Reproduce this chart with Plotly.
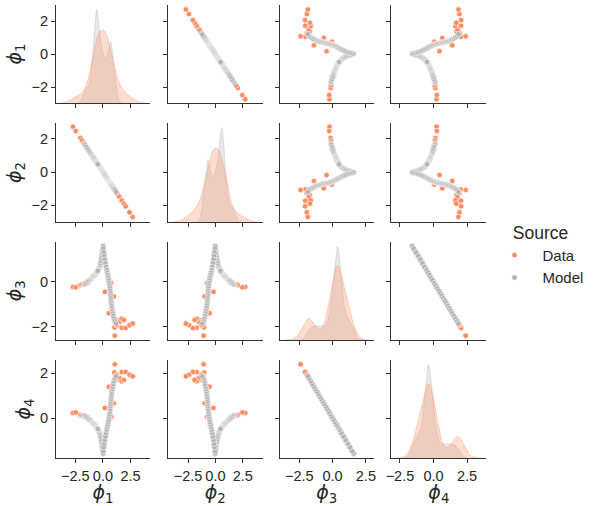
import numpy as np
import plotly.graph_objects as go

# Values (one entry per sample)
data_phi1 = [-2.72, -2.46, -2.04, -1.88, -1.66, -1.45, -1.36, -1.26,
             -1.10, -0.98, -0.86, -0.78, -0.70, -0.62, -0.55, -0.48, -0.40, -0.33, -0.27, -0.22, -0.16, -0.11,
             -0.06, 0.00, 0.05,
             -0.92, -0.74, -0.66, -0.58, -0.52,
             -1.02, -0.82, -0.64, -0.45, -0.36, -0.30, -0.19, -0.13,
             -0.95, -0.80, -0.68, -0.60,
             -0.25, -0.20, -0.14, -0.09, -0.03, 0.06, 0.12, 0.15, 0.20, 0.25, 0.30,
             0.10, 0.22, 0.34, 0.40, 0.46, 0.52, 0.57, 0.62, 0.70, 0.78, 0.88, 0.94, 1.00, 1.12,
             0.37, 0.43, 0.49, 0.39, 0.45, 0.51, 0.47,
             0.18, 0.54, 0.98, 0.75,
             1.05, 1.08, 1.27, 1.38, 1.50, 1.70, 1.72, 1.90, 2.06, 2.42, 2.70]
data_phi2 = [2.72, 2.46, 2.04, 1.88, 1.66, 1.45, 1.36, 1.26,
             1.10, 0.98, 0.86, 0.78, 0.70, 0.62, 0.55, 0.48, 0.40, 0.33, 0.27, 0.22, 0.16, 0.11,
             0.06, 0.00, -0.05,
             0.92, 0.74, 0.66, 0.58, 0.52,
             1.02, 0.82, 0.64, 0.45, 0.36, 0.30, 0.19, 0.13,
             0.95, 0.80, 0.68, 0.60,
             0.25, 0.20, 0.14, 0.09, 0.03, -0.06, -0.12, -0.15, -0.20, -0.25, -0.30,
             -0.10, -0.22, -0.34, -0.40, -0.46, -0.52, -0.57, -0.62, -0.70, -0.78, -0.88, -0.94, -1.00, -1.12,
             -0.37, -0.43, -0.49, -0.39, -0.45, -0.51, -0.47,
             -0.18, -0.54, -0.98, -0.75,
             -1.05, -1.08, -1.27, -1.38, -1.50, -1.70, -1.72, -1.90, -2.06, -2.42, -2.70]
data_phi3 = [-0.23, -0.25, -0.14, -0.11, -0.08, 0.00, -0.04, 0.07,
             0.12, 0.18, 0.24, 0.28, 0.33, 0.38, 0.44, 0.49, 0.56, 0.63, 0.72, 0.84, 0.98, 1.10,
             1.28, 1.42, 1.60,
             0.22, 0.31, 0.35, 0.41, 0.46,
             0.15, 0.26, 0.37, 0.52, 0.60, 0.67, 0.90, 1.04,
             0.20, 0.27, 0.34, 0.40,
             0.77, 0.87, 1.00, 1.15, 1.35, 1.40, 1.12, 1.02, 0.90, 0.76, 0.62,
             1.22, 0.84, 0.52, 0.40, 0.26, 0.12, 0.00, -0.16, -0.52, -0.92, -1.30, -1.46, -1.62, -1.90,
             0.46, 0.33, 0.19, 0.42, 0.30, 0.15, 0.24,
             -0.45, -1.40, -0.66, -0.06,
             -2.03, -2.40, -1.93, -1.72, -1.78, -1.64, -2.05, -1.70, -2.06, -1.93, -1.86]
data_phi4 = [0.23, 0.25, 0.14, 0.11, 0.08, 0.00, 0.04, -0.07,
             -0.12, -0.18, -0.24, -0.28, -0.33, -0.38, -0.44, -0.49, -0.56, -0.63, -0.72, -0.84, -0.98, -1.10,
             -1.28, -1.42, -1.60,
             -0.22, -0.31, -0.35, -0.41, -0.46,
             -0.15, -0.26, -0.37, -0.52, -0.60, -0.67, -0.90, -1.04,
             -0.20, -0.27, -0.34, -0.40,
             -0.77, -0.87, -1.00, -1.15, -1.35, -1.40, -1.12, -1.02, -0.90, -0.76, -0.62,
             -1.22, -0.84, -0.52, -0.40, -0.26, -0.12, 0.00, 0.16, 0.52, 0.92, 1.30, 1.46, 1.62, 1.90,
             -0.46, -0.33, -0.19, -0.42, -0.30, -0.15, -0.24,
             0.45, 1.40, 0.66, 0.06,
             2.03, 2.40, 1.93, 1.72, 1.78, 1.64, 2.05, 1.70, 2.06, 1.93, 1.86]

model_phi1 = [-1.72, -1.62, -1.50, -1.36, -1.22, -1.10, -1.00, -0.93, -0.87, -0.82, -0.78, -0.74,
              -0.71, -0.68, -0.65, -0.62, -0.60, -0.58, -0.56, -0.54, -0.52, -0.50, -0.47, -0.44,
              -0.41, -0.37, -0.33, -0.29, -0.25, -0.21, -0.17, -0.13, -0.09, -0.06, -0.03, 0.01,
              -0.84, -0.76, -0.69, -0.63, -0.59, -0.55, -0.51, -0.46,
              0.04, 0.08, 0.12, 0.17, 0.23, 0.29, 0.35, 0.40, 0.45, 0.50, 0.54, 0.58, 0.61, 0.64,
              0.66, 0.68, 0.70, 0.72, 0.74, 0.76, 0.79, 0.82, 0.86, 0.90, 0.95, 1.01, 1.08, 1.20]
model_phi2 = [1.72, 1.62, 1.50, 1.36, 1.22, 1.10, 1.00, 0.93, 0.87, 0.82, 0.78, 0.74,
              0.71, 0.68, 0.65, 0.62, 0.60, 0.58, 0.56, 0.54, 0.52, 0.50, 0.47, 0.44,
              0.41, 0.37, 0.33, 0.29, 0.25, 0.21, 0.17, 0.13, 0.09, 0.06, 0.03, -0.01,
              0.84, 0.76, 0.69, 0.63, 0.59, 0.55, 0.51, 0.46,
              -0.04, -0.08, -0.12, -0.17, -0.23, -0.29, -0.35, -0.40, -0.45, -0.50, -0.54, -0.58, -0.61, -0.64,
              -0.66, -0.68, -0.70, -0.72, -0.74, -0.76, -0.79, -0.82, -0.86, -0.90, -0.95, -1.01, -1.08, -1.20]
model_phi3 = [-0.12, -0.10, -0.04, 0.02, 0.07, 0.12, 0.17, 0.21, 0.24, 0.26, 0.28, 0.30,
              0.32, 0.34, 0.36, 0.38, 0.39, 0.41, 0.42, 0.44, 0.45, 0.47, 0.49, 0.52,
              0.55, 0.59, 0.63, 0.68, 0.75, 0.83, 0.92, 1.03, 1.15, 1.28, 1.42, 1.58,
              0.25, 0.29, 0.33, 0.37, 0.40, 0.43, 0.46, 0.49,
              1.48, 1.30, 1.14, 0.98, 0.82, 0.66, 0.52, 0.40, 0.29, 0.17, 0.06, -0.06, -0.17, -0.28,
              -0.40, -0.52, -0.63, -0.74, -0.85, -0.96, -1.07, -1.18, -1.29, -1.40, -1.52, -1.64, -1.76, -1.86]
model_phi4 = [0.12, 0.10, 0.04, -0.02, -0.07, -0.12, -0.17, -0.21, -0.24, -0.26, -0.28, -0.30,
              -0.32, -0.34, -0.36, -0.38, -0.39, -0.41, -0.42, -0.44, -0.45, -0.47, -0.49, -0.52,
              -0.55, -0.59, -0.63, -0.68, -0.75, -0.83, -0.92, -1.03, -1.15, -1.28, -1.42, -1.58,
              -0.25, -0.29, -0.33, -0.37, -0.40, -0.43, -0.46, -0.49,
              -1.48, -1.30, -1.14, -0.98, -0.82, -0.66, -0.52, -0.40, -0.29, -0.17, -0.06, 0.06, 0.17, 0.28,
              0.40, 0.52, 0.63, 0.74, 0.85, 0.96, 1.07, 1.18, 1.29, 1.40, 1.52, 1.64, 1.76, 1.86]

var_labels = ['1', '2', '3', '4']
sources = {
    'Data': [data_phi1, data_phi2, data_phi3, data_phi4],
    'Model': [model_phi1, model_phi2, model_phi3, model_phi4],
}
colors = {'Data': '#fc8d62', 'Model': '#b3b3b3'}
fills = {'Data': 'rgba(252,141,98,0.3)', 'Model': 'rgba(179,179,179,0.3)'}
edges = {'Data': 'rgba(252,141,98,0.35)', 'Model': 'rgba(179,179,179,0.35)'}
bw_adjust = {'Data': 0.95, 'Model': 0.65}

# axis ranges and ticks per variable
x_ranges = [[-4.25, 4.25], [-4.35, 4.3], [-3.96, 3.09], [-3.13, 3.93]]
y_ranges = [[-2.94, 2.97], [-3.0, 2.94], [-2.59, 1.78], [-1.78, 2.59]]
x_ticks = [-2.5, 0.0, 2.5]
x_ticktext = ['\u22122.5', '0.0', '2.5']
y_ticks = [[-2, 0, 2], [-2, 0, 2], [-2, 0], [0, 2]]

# panel positions in pixels (600 x 506 page)
W, H = 600, 506
col_px = [(50.7, 145.7), (164, 260), (277.5, 372.7), (390.7, 486.7)]
row_px = [(5, 103), (123, 222), (241.7, 340), (360, 458)]


def kde(values, n_total, adjust):
    # gaussian KDE, Scott bandwidth, cut=3, scaled by hue share (common_norm)
    v = np.asarray(values, dtype=float)
    n = len(v)
    h = v.std(ddof=1) * n ** (-0.2) * adjust
    grid = np.linspace(v.min() - 3 * h, v.max() + 3 * h, 200)
    dens = np.exp(-0.5 * ((grid[:, None] - v[None, :]) / h) ** 2).sum(axis=1)
    dens = dens / (n * h * np.sqrt(2 * np.pi)) * n / n_total
    return grid, dens


def tminus(v):
    return f'{v:g}'.replace('-', '\u2212')


n_total = sum(len(s[0]) for s in sources.values())
fig = go.Figure()
layout = {}
axis_style = dict(showline=True, linecolor='#333333', linewidth=1.25, ticks='outside', ticklen=4,
                  tickwidth=1.25, tickcolor='#333333', showgrid=False, zeroline=False, mirror=False,
                  tickfont=dict(family='Liberation Sans, Arial', size=14.5, color='#262626'))
title_font = dict(family='DejaVu Sans', size=19, color='#262626')

for r in range(4):
    for c in range(4):
        k = r * 4 + c + 1
        xa = 'x' if k == 1 else f'x{k}'
        ya = 'y' if k == 1 else f'y{k}'
        xkey = 'xaxis' if k == 1 else f'xaxis{k}'
        ykey = 'yaxis' if k == 1 else f'yaxis{k}'

        yrange = y_ranges[r]
        yticks = list(y_ticks[r])
        if r == c:
            # density panel: its own scale, row ticks mapped onto it
            top = 0
            curves = []
            for name in ['Model', 'Data']:
                g, d = kde(sources[name][c], n_total, bw_adjust[name])
                curves.append((name, g, d))
                top = max(top, d.max())
            top *= 1.05
            lo, hi = y_ranges[r]
            yrange = [0, top]
            yticks = [(t - lo) / (hi - lo) * top for t in y_ticks[r]]
            for name, g, d in curves:
                fig.add_trace(go.Scatter(x=g, y=d, mode='lines', fill='tozeroy', fillcolor=fills[name],
                                         line=dict(color=edges[name], width=1), showlegend=False,
                                         hoverinfo='skip', xaxis=xa, yaxis=ya))
        else:
            for name in ['Data', 'Model']:
                fig.add_trace(go.Scatter(x=sources[name][c], y=sources[name][r], mode='markers',
                                         name=name, legendgroup=name, showlegend=(k == 2),
                                         marker=dict(color=colors[name], size=5.5,
                                                     line=dict(color='white', width=0.6)),
                                         xaxis=xa, yaxis=ya))

        layout[xkey] = dict(axis_style, domain=[col_px[c][0] / W, col_px[c][1] / W], anchor=ya,
                            range=x_ranges[c], tickvals=x_ticks, ticktext=x_ticktext,
                            showticklabels=(r == 3))
        layout[ykey] = dict(axis_style, domain=[1 - row_px[r][1] / H, 1 - row_px[r][0] / H], anchor=xa,
                            range=yrange, tickvals=yticks,
                            ticktext=[tminus(t) for t in y_ticks[r]], showticklabels=(c == 0))
        if r == 3:
            layout[xkey]['title'] = dict(text=f'<i>\u03d5</i><sub>{var_labels[c]}</sub>', font=title_font,
                                         standoff=4)
        if c == 0:
            layout[ykey]['title'] = dict(text=f'<i>\u03d5</i><sub>{var_labels[r]}</sub>', font=title_font,
                                         standoff=4)

fig.update_layout(**layout)
fig.update_layout(
    width=W, height=H,
    margin=dict(l=0, r=0, t=0, b=0),
    paper_bgcolor='white', plot_bgcolor='white',
    font=dict(family='Liberation Sans, Arial', color='#262626'),
    legend=dict(x=487 / W, xanchor='left', y=1 - 216 / H, yanchor='top',
                title=dict(text='&nbsp;&nbsp;&nbsp;&nbsp;&nbsp;Source', font=dict(size=17.5)),
                font=dict(size=15), itemwidth=46, bgcolor='rgba(0,0,0,0)', tracegroupgap=0),
)

# page body has a default margin; drop it so the figure sits at the window corner
fig.write_html('out.html', config={'displayModeBar': False},
               post_script="document.body.style.margin='0';")
